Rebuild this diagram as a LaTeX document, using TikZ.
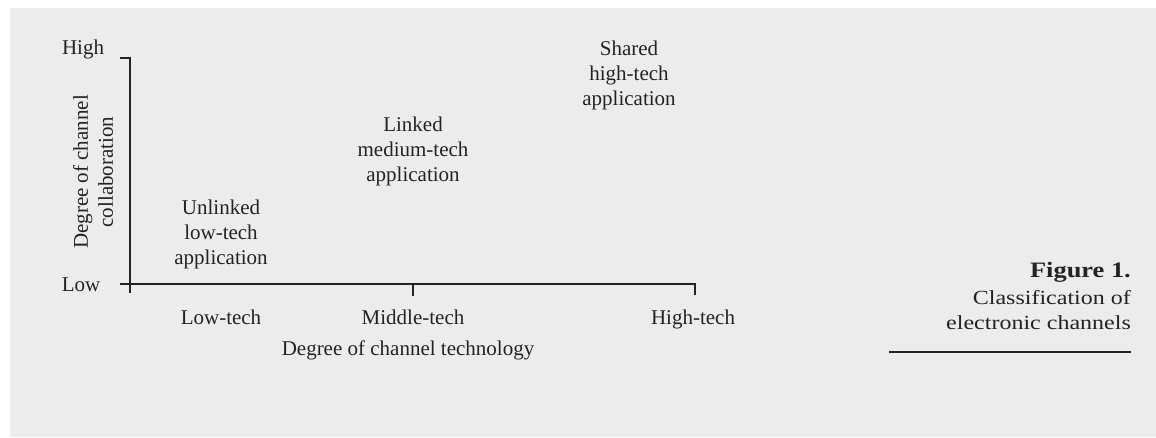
\documentclass[tikz,border=0pt]{standalone}
\usepackage{fontspec}
\setmainfont{Liberation Serif}
\newfontfamily\capfont[FakeStretch=1.2]{Liberation Serif}
\definecolor{ink}{RGB}{35,35,35}
\definecolor{paper}{RGB}{236,236,236}
\begin{document}
\begin{tikzpicture}[x=1pt,y=-1pt,
  lbl/.style={inner sep=0pt,text=ink,font=\fontsize{21}{25}\selectfont,align=center},
  one/.style={lbl,text height=14pt,text depth=5pt},
  captext/.style={inner sep=0pt,text=ink,anchor=east,font=\capfont\fontsize{20}{25}\selectfont},
  axis/.style={draw=ink,line width=1.4pt}]
\fill[white] (0,0) rectangle (1156,437);
\fill[paper] (10,8) rectangle (1156,437);
\useasboundingbox (0,0) rectangle (1156,437);
% axis points
\coordinate (ytop) at (130,58);
\coordinate (ytick) at (120,58);
\coordinate (ybot) at (130,293);
\coordinate (xleft) at (120,284);
\coordinate (xright) at (695,284);
\coordinate (xend) at (695,295);
\coordinate (xmid) at (413,284);
\coordinate (xmidt) at (413,296);
\draw[axis] (ytick) -- (ytop) -- (ybot);
\draw[axis] (xleft) -- (xright) -- (xend);
\draw[axis] (xmid) -- (xmidt);
% labels
\node[one] (high) at (83,50) {High};
\node[one] (low) at (81,287) {Low};
\node[lbl,rotate=90] (ylab) at (93,172) {Degree of channel\\collaboration};
\node[one] (lowt) at (221,320) {Low-tech};
\node[one] (midt) at (413,320) {Middle-tech};
\node[one] (hight) at (693,320) {High-tech};
\node[one] (xlab) at (408,351) {Degree of channel technology};
\node[lbl] (unl) at (221,234) {Unlinked\\low-tech\\application};
\node[lbl] (lnk) at (413,151) {Linked\\medium-tech\\application};
\node[lbl] (shr) at (629,75) {Shared\\high-tech\\application};
% caption
\node[captext,font=\capfont\bfseries\fontsize{22}{25}\selectfont] (fig) at (1131,272) {Figure 1.};
\node[captext] (cl1) at (1131,298) {Classification of};
\node[captext] (cl2) at (1131,323) {electronic channels};
\coordinate (rl) at (889,352);
\coordinate (rr) at (1131,352);
\draw[draw=ink,line width=1.2pt] (rl) -- (rr);
\end{tikzpicture}
\end{document}
